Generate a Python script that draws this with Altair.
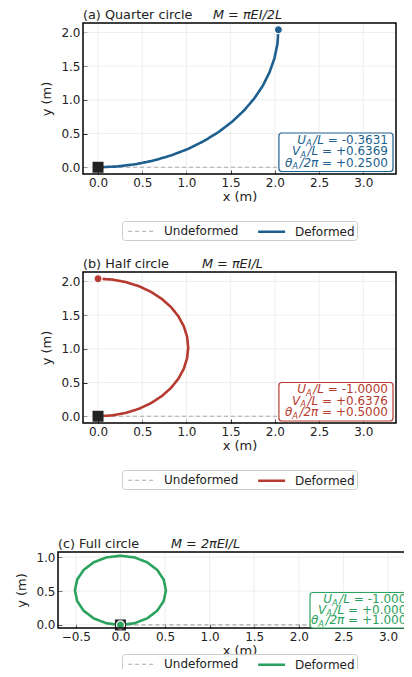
import altair as alt
import pandas as pd

# ---------------- data ----------------
UX = [0.0, 3.2]          # undeformed beam (x)
UY = [0.0, 0.0]          # undeformed beam (y)

# (a) quarter circle
QX = [0.0, 0.213, 0.424, 0.630, 0.830, 1.020, 1.199, 1.365, 1.516, 1.650, 1.767, 1.864, 1.940, 1.995, 2.029, 2.040]
QY = [0.0, 0.011, 0.045, 0.100, 0.177, 0.273, 0.390, 0.524, 0.675, 0.841, 1.020, 1.210, 1.410, 1.616, 1.827, 2.040]

# (b) half circle
HX = [0.0, 0.160, 0.315, 0.463, 0.600, 0.721, 0.825, 0.909, 0.970, 1.007, 1.020, 1.007, 0.970, 0.909, 0.825, 0.721, 0.600, 0.463, 0.315, 0.160, 0.0]
HY = [0.0, 0.013, 0.050, 0.111, 0.195, 0.299, 0.420, 0.557, 0.705, 0.861, 1.020, 1.180, 1.335, 1.483, 1.620, 1.741, 1.845, 1.929, 1.990, 2.028, 2.040]

# (c) full circle
FX = [0.0, 0.158, 0.300, 0.413, 0.485, 0.510, 0.485, 0.413, 0.300, 0.158, 0.0, -0.158, -0.300, -0.413, -0.485, -0.510, -0.485, -0.413, -0.300, -0.158, 0.0]
FY = [0.0, 0.025, 0.097, 0.210, 0.352, 0.510, 0.668, 0.810, 0.923, 0.995, 1.020, 0.995, 0.923, 0.810, 0.668, 0.510, 0.352, 0.210, 0.097, 0.025, 0.0]

TITLES = ["(a) Quarter circle", "(b) Half circle", "(c) Full circle"]
MOMENTS = ["M = πEI/2L", "M = πEI/L", "M = 2πEI/L"]
VALS_A = ["-0.3631", "+0.6369", "+0.2500"]
VALS_B = ["-1.0000", "+0.6376", "+0.5000"]
VALS_C = ["-1.0000", "+0.0000", "+1.0000"]
SERIES = ["Undeformed", "Deformed"]

X_TICKS_AB = [0.0, 0.5, 1.0, 1.5, 2.0, 2.5, 3.0]
Y_TICKS_AB = [0.0, 0.5, 1.0, 1.5, 2.0]
X_TICKS_C = [-0.5, 0.0, 0.5, 1.0, 1.5, 2.0, 2.5, 3.0]
Y_TICKS_C = [0.0, 0.5, 1.0]

BLUE = "#1d5f8e"
RED = "#b63a2f"
GREEN = "#2ba25d"
GRAY = "#aaaaaa"
GRID = "#e8e8e8"
INK = "#222222"
FONT = "DejaVu Sans"

CW, CH = 396, 661   # whole drawing surface

W = {'0': .636, '1': .636, '2': .636, '3': .636, '4': .636, '5': .636, '6': .636,
     '7': .636, '8': .636, '9': .636, '.': .318, '-': .361, '+': .838, '=': .838,
     ' ': .318, '/': .337, 'L': .557, 'U': .732, 'V': .684, 'A': .684, 'θ': .602, 'π': .602}


def tw(s, fs):
    return sum(W.get(ch, 0.6) for ch in s) * fs


def one():
    return alt.Data(values=[{"k": 0}])


def txt(x, y, s, fs, color, italic=False):
    return alt.Chart(one()).mark_text(
        text=s, align="left", baseline="alphabetic", font=FONT, fontSize=fs,
        fontStyle="italic" if italic else "normal", color=color,
    ).encode(x=alt.value(x), y=alt.value(y))


def panel(idx, xs, ys, color, vals, xdom, ydom, xt, yt, left, right, top, bottom,
          m_x, leg_x, leg_y, t_right, base0, step, box_left=None, box_bottom=None):
    df = pd.DataFrame({
        "x": UX + xs,
        "y": UY + ys,
        "series": [SERIES[0]] * len(UX) + [SERIES[1]] * len(xs),
        "i": list(range(len(UX))) + list(range(len(xs))),
    })
    # a short legend row (symbol slot 13.5 px) with a 27 px line drawn in it
    leg = alt.Legend(title=None, orient="none", legendX=leg_x, legendY=leg_y,
                     direction="horizontal", symbolType="M-0.5,0H3.5", symbolSize=182,
                     labelFontSize=12, labelFont=FONT, labelColor=INK, labelOffset=25,
                     columnPadding=13, padding=2, strokeColor="#cccccc",
                     cornerRadius=3, fillColor="white")
    xsc = alt.Scale(domain=xdom, nice=False, zero=False, range=[left, right])
    ysc = alt.Scale(domain=ydom, nice=False, zero=False, range=[bottom, top])
    main_x = alt.Axis(orient="bottom", offset=-(CH - bottom), values=xt, format=".1f",
                      ticks=False, domain=False, grid=False, labelPadding=3, labelFlush=False,
                      title="x (m)", titlePadding=2)
    main_y = alt.Axis(orient="left", offset=-left, values=yt, format=".1f",
                      ticks=False, domain=False, grid=False, labelPadding=3, labelFlush=False,
                      title="y (m)", titlePadding=7)
    tick_x = alt.Axis(orient="bottom", offset=-(CH - bottom + 4), values=xt, ticks=True,
                      tickSize=4, labels=False, domain=False, grid=False, title=None)
    tick_y = alt.Axis(orient="left", offset=-(left + 4), values=yt, ticks=True,
                      tickSize=4, labels=False, domain=False, grid=False, title=None)

    gx = alt.Chart(pd.DataFrame({"t": xt})).mark_rule(color=GRID, strokeWidth=0.8).encode(
        x=alt.X("t:Q", scale=xsc, axis=None), y=alt.value(top), y2=alt.value(bottom))
    gy = alt.Chart(pd.DataFrame({"t": yt})).mark_rule(color=GRID, strokeWidth=0.8).encode(
        y=alt.Y("t:Q", scale=ysc, axis=None), x=alt.value(left), x2=alt.value(right))
    frame = alt.Chart(one()).mark_rect(fillOpacity=0, stroke="black", strokeWidth=1.5).encode(
        x=alt.value(left), x2=alt.value(right), y=alt.value(top), y2=alt.value(bottom))

    lines = alt.Chart(df).mark_line().encode(
        x=alt.X("x:Q", scale=xsc, axis=main_x),
        y=alt.Y("y:Q", scale=ysc, axis=main_y),
        color=alt.Color("series:N", scale=alt.Scale(domain=SERIES, range=[GRAY, color]), legend=leg),
        strokeDash=alt.StrokeDash("series:N", scale=alt.Scale(domain=SERIES, range=[[4, 3], [1, 0]]), legend=leg),
        strokeWidth=alt.StrokeWidth("series:N", scale=alt.Scale(domain=SERIES, range=[1.2, 2.6]), legend=leg),
        order="i:Q",
    )
    clamp = alt.Chart(pd.DataFrame({"x": [UX[0]], "y": [UY[0]]})).mark_square(
        size=121, color=INK, opacity=1).encode(
        x=alt.X("x:Q", scale=xsc, axis=tick_x),
        y=alt.Y("y:Q", scale=ysc, axis=tick_y),
    )
    tip = alt.Chart(pd.DataFrame({"x": [xs[-1]], "y": [ys[-1]]})).mark_circle(
        size=64, color=color, opacity=1, stroke="white", strokeWidth=1.2).encode(
        x=alt.X("x:Q", scale=xsc, axis=None),
        y=alt.Y("y:Q", scale=ysc, axis=None),
    )

    # annotation box with composite (subscripted) text
    fs = 12
    sub = fs * 0.7
    gap = 1.5
    sp = tw(" ", fs)
    rows = [("U", "/L", "= " + vals[0]), ("V", "/L", "= " + vals[1]), ("θ", "/2π", "= " + vals[2])]
    tlayers = []
    starts = []
    for k, (a, b, c) in enumerate(rows):
        total = tw(a, fs) + tw("A", sub) + gap + tw(b, fs) + sp + tw(c, fs)
        x0 = t_right - total
        starts.append(x0)
        yb = base0 + k * step
        tlayers.append(txt(x0, yb, a, fs, color, True))
        x1 = x0 + tw(a, fs)
        tlayers.append(txt(x1, yb + 2.5, "A", sub, color, True))
        x2 = x1 + tw("A", sub) + gap
        tlayers.append(txt(x2, yb, b, fs, color, True))
        x3 = x2 + tw(b, fs) + sp
        tlayers.append(txt(x3, yb, c, fs, color, False))
    bl = box_left if box_left is not None else min(starts) - 6
    bb = box_bottom if box_bottom is not None else base0 + 2 * step + 5
    box = alt.Chart(one()).mark_rect(
        fill="white", stroke=color, strokeWidth=1.2, cornerRadius=3).encode(
        x=alt.value(bl), x2=alt.value(t_right + 5),
        y=alt.value(base0 - 10.5), y2=alt.value(bb),
    )
    t1 = txt(left, top - 4.5, TITLES[idx], 12.8, INK)
    t2 = txt(m_x, top - 4.5, MOMENTS[idx], 12.8, INK, True)

    return alt.layer(gx, gy, lines, clamp, tip, frame, box, *tlayers, t1, t2).resolve_axis(
        x="independent", y="independent")


pa = panel(0, QX, QY, BLUE, VALS_A, [-0.17, 3.37], [-0.10, 2.14], X_TICKS_AB, Y_TICKS_AB,
           75, 388, 15, 166, 205, 114, 213, 380, 135.5, 11.5)
pb = panel(1, HX, HY, RED, VALS_B, [-0.17, 3.37], [-0.10, 2.14], X_TICKS_AB, Y_TICKS_AB,
           75, 388, 264, 415, 194, 114, 462, 380, 385, 11.5)
pc = panel(2, FX, FY, GREEN, VALS_C, [-0.70, 3.37], [-0.045, 1.075], X_TICKS_C, Y_TICKS_C,
           50, 413, 544, 620, 163, 114, 646, 406, 595, 10.5, box_left=302, box_bottom=620)

chart = alt.layer(pa, pb, pc).resolve_scale(
    x="independent", y="independent",
    color="independent", strokeDash="independent", strokeWidth="independent",
).resolve_axis(x="independent", y="independent").properties(
    width=CW, height=CH, padding=0, autosize=alt.AutoSizeParams(type="none"),
).configure(font=FONT).configure_view(stroke="transparent").configure_axis(
    labelFontSize=12, titleFontSize=13, titleFontWeight="normal",
    labelColor=INK, titleColor=INK, tickColor=INK, labelFont=FONT, titleFont=FONT
)

chart.save("out.html", embed_options={"renderer": "svg", "actions": False})
